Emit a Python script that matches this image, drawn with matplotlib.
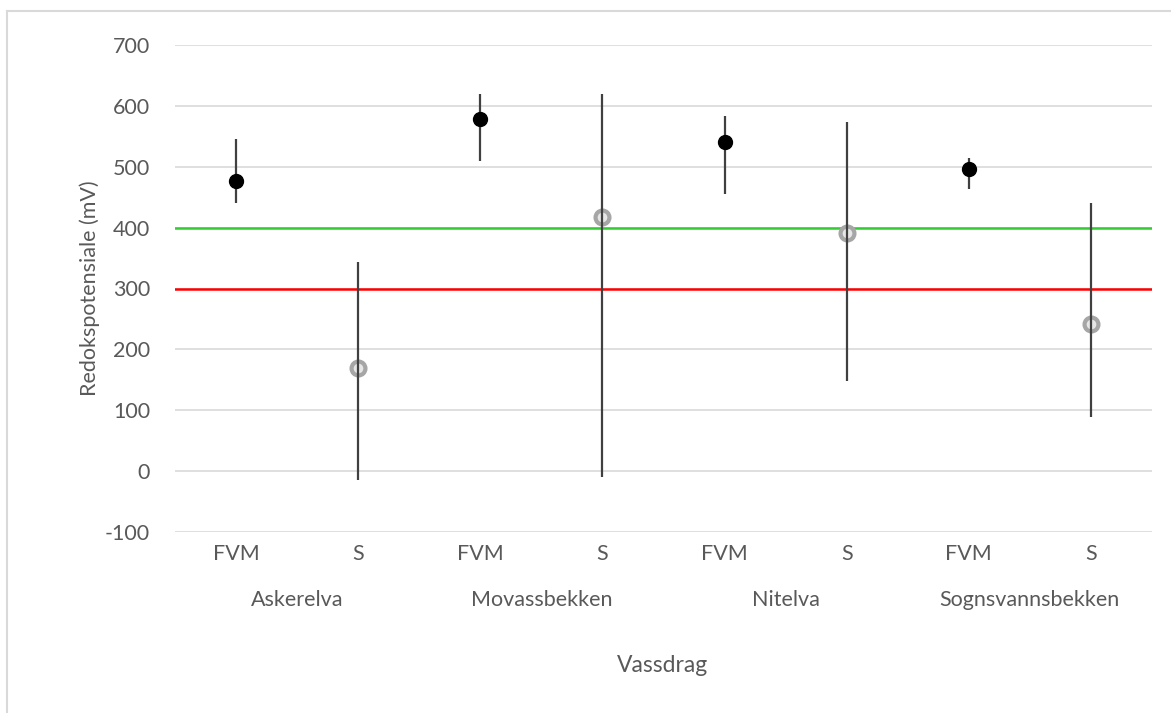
import matplotlib.pyplot as plt
import numpy as np
from matplotlib.lines import Line2D

plt.rcParams['font.family'] = ['Lato', 'DejaVu Sans']
plt.rcParams['axes.unicode_minus'] = False

# data
vassdrag = ['Askerelva', 'Movassbekken', 'Nitelva', 'Sognsvannsbekken']
fvm_mean = [477, 578, 541, 496]
fvm_low = [440, 510, 456, 464]
fvm_high = [545, 620, 584, 514]
s_mean = [170, 417, 391, 242]
s_low = [-14, -9, 148, 89]
s_high = [343, 620, 573, 440]
yticks = [-100, 0, 100, 200, 300, 400, 500, 600, 700]
grense_gronn = 400
grense_rod = 300

txt = '#595959'
fig = plt.figure(figsize=(11.71, 7.13), dpi=100)
ax = fig.add_axes([175 / 1171, 1 - 532 / 713, (1152 - 175) / 1171, (532 - 45) / 713])

n = len(vassdrag)
x_fvm = np.arange(n) * 2
x_s = x_fvm + 1

ax.set_xlim(-0.5, 2 * n - 0.5)
ax.set_ylim(-100, 700)
ax.set_yticks(yticks)
for t in yticks:
    ax.axhline(t, color='#d9d9d9', lw=1.2, zorder=0)

ax.axhline(grense_gronn, color='#33cc33', lw=1.8, zorder=1)
ax.axhline(grense_rod, color='#ff0000', lw=1.8, zorder=1)

# error bars
ax.vlines(x_fvm, fvm_low, fvm_high, color='#404040', lw=1.6, zorder=4)
ax.vlines(x_s, s_low, s_high, color='#404040', lw=1.6, zorder=4)

ax.plot(x_fvm, fvm_mean, 'o', color='black', ms=10, zorder=5, ls='none')
ax.plot(x_s, s_mean, 'o', mfc='#e6e6e6', mec='#a6a6a6', mew=3, ms=10, zorder=3, ls='none')

xt = []
xl = []
for i in range(n):
    xt += [x_fvm[i], x_s[i]]
    xl += ['FVM', 'S']
ax.set_xticks(xt)
ax.set_xticklabels(xl)

for s in ax.spines.values():
    s.set_visible(False)
ax.tick_params(length=0, colors=txt, labelsize=15.5, pad=9)
ax.tick_params(axis='y', pad=18)

trans = ax.get_xaxis_transform()
for i, v in enumerate(vassdrag):
    ax.text((x_fvm[i] + x_s[i]) / 2, -0.14, v, transform=trans, ha='center', va='center',
            color=txt, fontsize=15.5)

fig.text(663 / 1171, 1 - 665 / 713, 'Vassdrag', ha='center', va='center', color=txt, fontsize=16.5)
fig.text(90 / 1171, 1 - 288 / 713, 'Redokspotensiale (mV)', ha='center', va='center',
         rotation=90, color=txt, fontsize=15.5)

# outer chart frame
fig.add_artist(Line2D([7 / 1171, 7 / 1171], [0, 1 - 11 / 713], transform=fig.transFigure,
                      color='#d9d9d9', lw=1.5))
fig.add_artist(Line2D([7 / 1171, 1], [1 - 11 / 713, 1 - 11 / 713], transform=fig.transFigure,
                      color='#d9d9d9', lw=1.5))

fig.savefig('out.png', dpi=100)
